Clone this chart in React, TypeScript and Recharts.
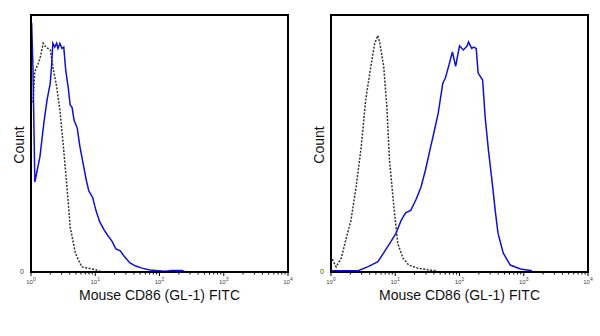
import { LineChart, Line, XAxis, YAxis, ReferenceArea } from 'recharts';

// x = log10(FITC intensity), y = relative count (0-100)
const leftStained = [
  { x: 0.01, y: 97 }, { x: 0.03, y: 80 }, { x: 0.06, y: 35 }, { x: 0.14, y: 45 },
  { x: 0.2, y: 58 }, { x: 0.25, y: 67 }, { x: 0.3, y: 73.5 }, { x: 0.32, y: 80 },
  { x: 0.34, y: 89 }, { x: 0.37, y: 87.5 }, { x: 0.4, y: 89 }, { x: 0.42, y: 87 },
  { x: 0.45, y: 89 }, { x: 0.48, y: 87 }, { x: 0.51, y: 87.5 }, { x: 0.54, y: 78.6 },
  { x: 0.58, y: 71.6 }, { x: 0.61, y: 65 }, { x: 0.64, y: 64 }, { x: 0.67, y: 59 },
  { x: 0.72, y: 56 }, { x: 0.76, y: 49 }, { x: 0.81, y: 42.4 }, { x: 0.86, y: 35.8 },
  { x: 0.9, y: 31.5 }, { x: 0.96, y: 29 }, { x: 1.01, y: 24 }, { x: 1.07, y: 19.5 },
  { x: 1.14, y: 16.3 }, { x: 1.2, y: 14 }, { x: 1.26, y: 12 }, { x: 1.32, y: 9 },
  { x: 1.39, y: 8.2 }, { x: 1.46, y: 5.8 }, { x: 1.54, y: 3.5 }, { x: 1.63, y: 2.3 },
  { x: 1.73, y: 1.5 }, { x: 1.85, y: 0.8 }, { x: 1.98, y: 0.5 }, { x: 2.09, y: 0.3 },
  { x: 2.19, y: 0.6 }, { x: 2.35, y: 0.6 }, { x: 2.4, y: 0 },
];

const leftControl = [
  { x: 0.03, y: 66 }, { x: 0.06, y: 78 }, { x: 0.11, y: 81 }, { x: 0.14, y: 83 },
  { x: 0.19, y: 89 }, { x: 0.23, y: 87.5 }, { x: 0.3, y: 86.4 }, { x: 0.34, y: 80 },
  { x: 0.4, y: 72 }, { x: 0.45, y: 63 }, { x: 0.5, y: 50 }, { x: 0.56, y: 33 },
  { x: 0.61, y: 17.5 }, { x: 0.69, y: 7.4 }, { x: 0.79, y: 2 }, { x: 1.02, y: 0.8 },
  { x: 1.1, y: 0 },
];

const rightStained = [
  { x: 0, y: 0.5 }, { x: 0.43, y: 0.6 }, { x: 0.57, y: 2 }, { x: 0.73, y: 4 },
  { x: 0.85, y: 8.6 }, { x: 0.93, y: 11.7 }, { x: 1.01, y: 15 }, { x: 1.09, y: 20 },
  { x: 1.16, y: 23 }, { x: 1.24, y: 24 }, { x: 1.32, y: 28 }, { x: 1.4, y: 33 },
  { x: 1.47, y: 39.7 }, { x: 1.55, y: 48.6 }, { x: 1.6, y: 54 }, { x: 1.67, y: 62 },
  { x: 1.74, y: 73.5 }, { x: 1.78, y: 75.5 }, { x: 1.83, y: 80 }, { x: 1.89, y: 85.6 },
  { x: 1.94, y: 80 }, { x: 2.0, y: 88 }, { x: 2.06, y: 86.4 }, { x: 2.12, y: 88 },
  { x: 2.14, y: 89.5 }, { x: 2.19, y: 87 }, { x: 2.22, y: 87.5 }, { x: 2.26, y: 87 },
  { x: 2.29, y: 77.4 }, { x: 2.36, y: 74.7 }, { x: 2.4, y: 60 }, { x: 2.45, y: 47.5 },
  { x: 2.51, y: 34.6 }, { x: 2.56, y: 23 }, { x: 2.6, y: 15 }, { x: 2.68, y: 7.4 },
  { x: 2.79, y: 2.7 }, { x: 2.95, y: 1.2 }, { x: 3.13, y: 0.5 },
];

const rightControl = [
  { x: 0.02, y: 5 }, { x: 0.08, y: 2 }, { x: 0.16, y: 5.4 }, { x: 0.23, y: 12.5 },
  { x: 0.31, y: 20 }, { x: 0.39, y: 33 }, { x: 0.47, y: 48.6 }, { x: 0.54, y: 67 },
  { x: 0.62, y: 80 }, { x: 0.68, y: 89 }, { x: 0.73, y: 92 }, { x: 0.76, y: 89 },
  { x: 0.82, y: 80 }, { x: 0.87, y: 64 }, { x: 0.91, y: 43.6 }, { x: 0.98, y: 25 },
  { x: 1.04, y: 11 }, { x: 1.12, y: 5.4 }, { x: 1.21, y: 2.7 }, { x: 1.35, y: 1.5 },
  { x: 1.55, y: 0.7 }, { x: 1.65, y: 0.5 },
];

const decades = [0, 1, 2, 3, 4];
const xLabel = 'Mouse CD86 (GL-1) FITC';
const yLabel = 'Count';

const font = "Arial, 'Liberation Sans', sans-serif";

// major decade ticks plus minor 2..9 ticks (log positions)
const logTicks: number[] = [];
decades.forEach((d) => {
  if (d === 4) {
    logTicks.push(4);
    return;
  }
  for (let k = 1; k <= 9; k++) logTicks.push(d + Math.log10(k));
});

const DecadeTick = (props: any) => {
  const { x, y, payload } = props;
  const v = payload.value;
  const major = Math.abs(v - Math.round(v)) < 1e-6;
  return (
    <g>
      <line x1={x} x2={x} y1={y} y2={y + (major ? 4 : 2.5)} stroke="#000" strokeWidth={1} />
      {major && (
        <text x={x} y={y + 12} textAnchor="middle" fontSize={6} fill="#444" fontFamily={font}>
          10
          <tspan fontSize={5} dy={-3}>{Math.round(v)}</tspan>
        </text>
      )}
    </g>
  );
};

function Histogram({ stained, control }: { stained: { x: number; y: number }[]; control: { x: number; y: number }[] }) {
  return (
    <LineChart width={300} height={336} margin={{ top: 15, right: 12, bottom: 0, left: 0 }}>
      <XAxis
        type="number"
        dataKey="x"
        domain={[0, 4]}
        ticks={logTicks}
        interval={0}
        allowDataOverflow
        tickLine={false}
        tickSize={0}
        tickMargin={0}
        tick={<DecadeTick />}
        axisLine={{ stroke: '#000', strokeWidth: 2 }}
        height={64}
        label={{
          content: (p: any) => (
            <text
              x={p.viewBox.x + p.viewBox.width / 2}
              y={300}
              textAnchor="middle"
              fontSize={14}
              fontFamily={font}
              fill="#111"
            >
              {xLabel}
            </text>
          ),
        }}
      />
      <YAxis
        type="number"
        domain={[0, 100]}
        ticks={[0]}
        width={31}
        tickLine={false}
        axisLine={{ stroke: '#000', strokeWidth: 2 }}
        tick={{ fontSize: 7, fill: '#444', fontFamily: font }}
        tickMargin={1}
        label={{
          content: () => (
            <text
              x={24}
              y={145}
              transform="rotate(-90 24 145)"
              textAnchor="middle"
              fontSize={14}
              fontFamily={font}
              fill="#111"
            >
              {yLabel}
            </text>
          ),
        }}
      />
      <ReferenceArea x1={0} x2={4} y1={0} y2={100} fill="none" stroke="#000" strokeWidth={2} ifOverflow="visible" />
      <Line
        data={control}
        dataKey="y"
        type="linear"
        stroke="#333"
        strokeWidth={1.5}
        strokeDasharray="2 1.5"
        dot={false}
        isAnimationActive={false}
      />
      <Line
        data={stained}
        dataKey="y"
        type="linear"
        stroke="#1010d0"
        strokeWidth={1.5}
        dot={false}
        isAnimationActive={false}
      />
    </LineChart>
  );
}

export default function App() {
  return (
    <div style={{ position: 'absolute', left: 0, top: 0, width: 600, height: 336, background: '#fff', display: 'flex' }}>
      <Histogram stained={leftStained} control={leftControl} />
      <Histogram stained={rightStained} control={rightControl} />
    </div>
  );
}
